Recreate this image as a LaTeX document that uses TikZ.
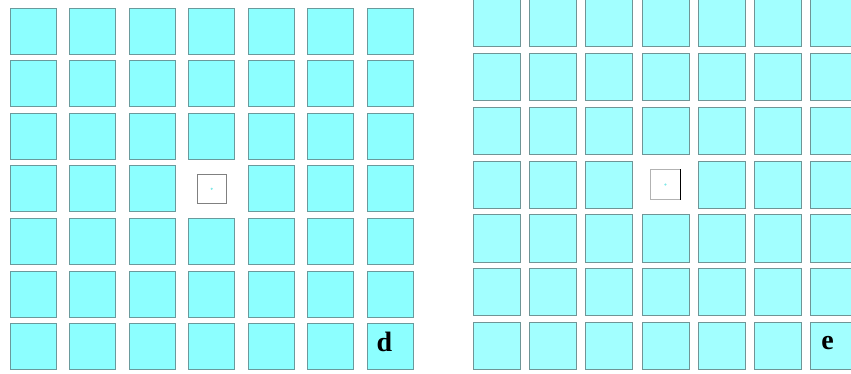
\documentclass[tikz,border=0pt]{standalone}
\usepackage{fontspec}
\setmainfont{Liberation Serif}
\definecolor{lfill}{HTML}{8CFFFF}
\definecolor{rfill}{HTML}{A2FFFF}
\definecolor{ledge}{HTML}{6A9A9C}
\definecolor{redge}{HTML}{6F9596}
\definecolor{dotc}{HTML}{7FE8E8}
\begin{document}
\begin{tikzpicture}[x=1pt,y=-1pt,
  lsq/.style={draw=ledge,line width=0.8pt,fill=lfill,minimum size=46pt,inner sep=0pt,outer sep=0pt},
  rsq/.style={draw=redge,line width=0.8pt,fill=rfill,minimum size=47pt,inner sep=0pt,outer sep=0pt},
  lhole/.style={draw=gray,line width=0.8pt,fill=white,minimum size=29pt,inner sep=0pt},
  rhole/.style={draw=gray!60,line width=0.6pt,fill=white,minimum size=30pt,inner sep=0pt},
  dotmark/.style={circle,fill=dotc,minimum size=2.4pt,inner sep=0pt},
  letter/.style={font=\fontsize{28}{28}\selectfont\bfseries,inner sep=0pt}]
\useasboundingbox (0,0) rectangle (851,374);
\clip (0,0) rectangle (851,374);
% left grid
\foreach \i in {0,...,6}{
  \foreach \j in {0,...,6}{
    \pgfmathsetmacro{\cx}{10+59.55*\i+23}
    \pgfmathsetmacro{\cy}{8+52.6*\j+23}
    \ifnum\i=3 \ifnum\j=3
      \node[lhole] (L-\i-\j) at (\cx,\cy) {};
      \node[dotmark] (Ldot) at (L-\i-\j.center) {};
    \else
      \node[lsq] (L-\i-\j) at (\cx,\cy) {};
    \fi
    \else
      \node[lsq] (L-\i-\j) at (\cx,\cy) {};
    \fi
  }
}
% right grid
\foreach \i in {0,...,6}{
  \foreach \j in {0,...,6}{
    \pgfmathsetmacro{\cx}{473.3+56.2*\i+23.5}
    \pgfmathsetmacro{\cy}{-0.5+53.85*\j+23.5}
    \ifnum\i=3 \ifnum\j=3
      \node[rhole] (R-\i-\j) at (\cx,\cy) {};
      \draw[black,line width=0.9pt] (R-\i-\j.north east) -- (R-\i-\j.south east);
      \node[dotmark] (Rdot) at (R-\i-\j.center) {};
    \else
      \node[rsq] (R-\i-\j) at (\cx,\cy) {};
    \fi
    \else
      \node[rsq] (R-\i-\j) at (\cx,\cy) {};
    \fi
  }
}
\node[letter] (dlab) at (384.5,341.5) {d};
\node[letter] (elab) at (827.5,343) {e};
\end{tikzpicture}
\end{document}
